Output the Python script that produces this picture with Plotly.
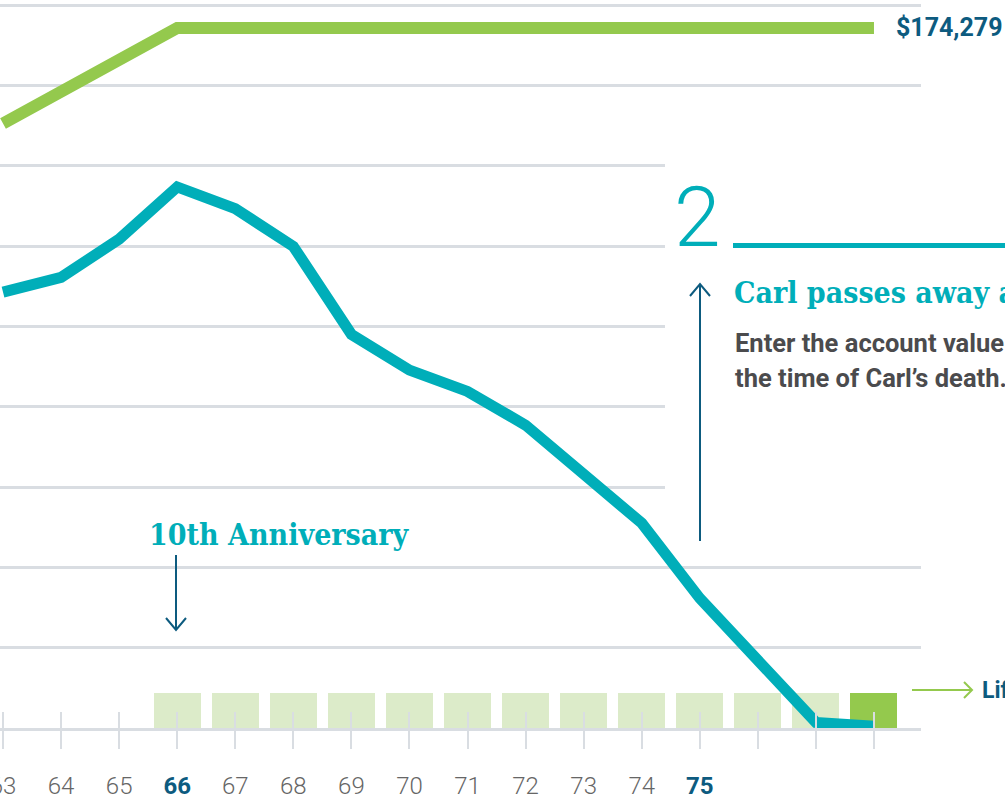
import plotly.graph_objects as go

# ---------------- data ----------------
ages = list(range(63, 79))
benefit = [150500, 158600, 166600, 174279, 174279, 174279, 174279, 174279,
           174279, 174279, 174279, 174279, 174279, 174279, 174279, 174279]
account = [108500, 112200, 121700, 134700, 129300, 119900, 98000, 89100,
           83800, 75400, 63200, 51000, 32300, 17300, 1400, 450]
bar_ages = list(range(66, 79))
bar_kind = ["year"] * 12 + ["death"]
tick_labels = ["63", "64", "65", "66", "67", "68", "69", "70", "71", "72", "73", "74", "75", "", "", ""]
highlight_ticks = ["66", "75"]
benefit_label = "$174,279"

# ---------------- styles ----------------
W, H = 1005, 799
ML, MR, MT, MB = 0, 84, 0, 71
PW, PH = W - ML - MR, H - MT - MB
X_RANGE = [62.948, 78.81]
TEAL = "#00aeb9"
GREEN = "#94c94d"
LIGHT_GREEN = "#dcebc9"
DARK_BLUE = "#0d5b7f"
GRID = "#d9dde2"
GREY_TXT = "#4b4b4d"
BAR_H = 8600
Y_TOP = 180000 * PH / (PH - 5)


def px(xp):
    return (xp - ML) / PW


def py(yp):
    return 1 - (yp - MT) / PH


def dx(xp):
    return X_RANGE[0] + px(xp) * (X_RANGE[1] - X_RANGE[0])


def dy(yp):
    return py(yp) * Y_TOP


ticktext = [f"<span style='color:{DARK_BLUE}'><b>{t}</b></span>" if t in highlight_ticks else t
            for t in tick_labels]

fig = go.Figure()
fig.add_trace(go.Bar(
    x=bar_ages, y=[BAR_H] * len(bar_ages), width=0.81,
    marker=dict(color=[GREEN if k == "death" else LIGHT_GREEN for k in bar_kind], line_width=0),
    hoverinfo="skip", showlegend=False))
fig.add_trace(go.Scatter(x=ages, y=account, mode="lines",
                         line=dict(color=TEAL, width=11), showlegend=False, hoverinfo="skip"))
fig.add_trace(go.Scatter(x=ages, y=benefit, mode="lines",
                         line=dict(color=GREEN, width=12), showlegend=False, hoverinfo="skip"))
# dummy trace so the overlaid axis (inner tick marks) is drawn
fig.add_trace(go.Scatter(x=[ages[0]], y=[None], xaxis="x2", mode="lines",
                         showlegend=False, hoverinfo="skip"))

fig.update_layout(
    width=W, height=H,
    margin=dict(l=ML, r=MR, t=MT, b=MB, pad=0),
    paper_bgcolor="white", plot_bgcolor="white",
    bargap=0,
    xaxis=dict(range=X_RANGE, tickmode="array", tickvals=ages, ticktext=ticktext,
               ticks="outside", ticklen=18, tickwidth=2, tickcolor=GRID,
               showline=True, linecolor=GRID, linewidth=3, showgrid=False, zeroline=False,
               tickfont=dict(family="Roboto, sans-serif", size=24, color="#666666", weight=300),
               ticklabelstandoff=16, ticklabeloverflow="allow", automargin=False),
    xaxis2=dict(overlaying="x", matches="x", anchor="y", side="bottom",
                tickmode="array", tickvals=ages, showticklabels=False,
                ticks="inside", ticklen=16, tickwidth=2, tickcolor=GRID,
                showline=False, showgrid=False, zeroline=False, automargin=False),
    yaxis=dict(range=[0, Y_TOP], dtick=20000, showgrid=True, gridcolor=GRID, gridwidth=2.5,
               showticklabels=False, zeroline=False, ticks="", automargin=False),
)

shapes = [
    # blank area behind the step-2 callout (between grid and traces)
    dict(type="rect", xref="x", yref="y", x0=dx(665), x1=X_RANGE[1], y0=dy(500), y1=dy(150),
         fillcolor="white", line_width=0, layer="between"),
    # teal underline next to the "2"
    dict(type="line", xref="paper", yref="paper", x0=px(733), x1=px(1030), y0=py(245.5), y1=py(245.5),
         line=dict(color=TEAL, width=5)),
    # down arrow under 10th Anniversary
    dict(type="path", xref="paper", yref="paper", xsizemode="pixel", ysizemode="pixel",
         xanchor=px(176), yanchor=py(555), path="M0,0 L0,-75 M-10,-63 L0,-75 L10,-63",
         line=dict(color=DARK_BLUE, width=2)),
    # up arrow at age 75
    dict(type="path", xref="paper", yref="paper", xsizemode="pixel", ysizemode="pixel",
         xanchor=px(700), yanchor=py(541), path="M0,0 L0,257 M-10,245 L0,257 L10,245",
         line=dict(color=DARK_BLUE, width=2)),
    # green arrow to the right label
    dict(type="path", xref="paper", yref="paper", xsizemode="pixel", ysizemode="pixel",
         xanchor=px(912), yanchor=py(690), path="M0,0 L60,0 M52,8 L60,0 L52,-8",
         line=dict(color=GREEN, width=2)),
]
fig.update_layout(shapes=shapes)

annotations = [
    dict(text=f"<b>{benefit_label}</b>", xref="paper", yref="y", x=px(894), y=benefit[-1],
         xanchor="left", yanchor="middle", showarrow=False,
         font=dict(family="Roboto, sans-serif", size=25, color=DARK_BLUE)),
    dict(text="<b>10th Anniversary</b>", xref="paper", yref="paper", x=px(147), y=py(534),
         xanchor="left", yanchor="middle", showarrow=False,
         font=dict(family="DejaVu Serif Condensed, DejaVu Serif, serif", size=30, color=TEAL)),
    dict(text="2", xref="paper", yref="paper", x=px(672), y=py(217),
         xanchor="left", yanchor="middle", showarrow=False,
         font=dict(family="Roboto, sans-serif", size=84, color=TEAL, weight=300)),
    dict(text="<b>Carl passes away at age 77</b>", xref="paper", yref="paper", x=px(732), y=py(292),
         xanchor="left", yanchor="middle", showarrow=False,
         font=dict(family="DejaVu Serif Condensed, DejaVu Serif, serif", size=30, color=TEAL)),
    dict(text="<b>Enter the account value at</b>", xref="paper", yref="paper", x=px(733), y=py(343),
         xanchor="left", yanchor="middle", showarrow=False,
         font=dict(family="Roboto, sans-serif", size=25.5, color=GREY_TXT)),
    dict(text="<b>the time of Carl\u2019s death.</b>", xref="paper", yref="paper", x=px(733), y=py(378),
         xanchor="left", yanchor="middle", showarrow=False,
         font=dict(family="Roboto, sans-serif", size=25.5, color=GREY_TXT)),
    dict(text="<b>Lifetime benefit</b>", xref="paper", yref="paper", x=px(980), y=py(690),
         xanchor="left", yanchor="middle", showarrow=False,
         font=dict(family="Roboto, sans-serif", size=23, color=DARK_BLUE)),
]
fig.update_layout(annotations=annotations)

fig.write_html("out.html", config={"displayModeBar": False},
               post_script="document.body.style.margin='0';document.body.style.overflow='hidden';")
